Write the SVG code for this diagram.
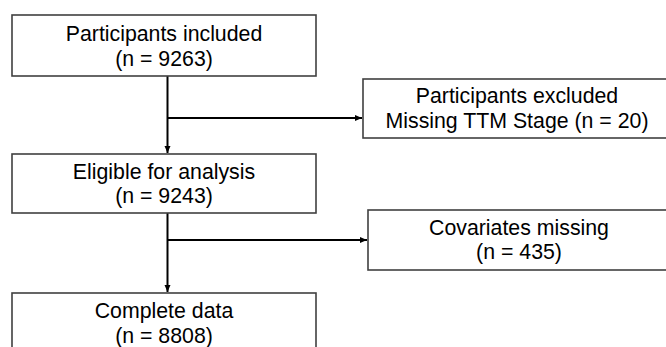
<svg xmlns="http://www.w3.org/2000/svg" width="666" height="347" viewBox="0 0 666 347">
<style>
.box{fill:#fff;stroke:#404040;stroke-width:1.6}
.t{font-family:"Liberation Sans",Arial,sans-serif;font-size:21.3px;fill:#000;text-anchor:middle}
.c{fill:none;stroke:#000;stroke-width:2}
</style>
<defs>
<marker id="ah" markerWidth="8" markerHeight="8" refX="7" refY="4" orient="auto" markerUnits="userSpaceOnUse">
<path d="M0,1 L7,4 L0,7 Z" fill="#000"/>
</marker>
</defs>
<rect width="666" height="347" fill="#fff"/>
<g id="connectors">
<line class="c" x1="167.5" y1="76" x2="167.5" y2="153" marker-end="url(#ah)"/>
<line class="c" x1="167.5" y1="118" x2="362" y2="118" marker-end="url(#ah)"/>
<line class="c" x1="167.5" y1="213" x2="167.5" y2="292" marker-end="url(#ah)"/>
<line class="c" x1="167.5" y1="240" x2="367" y2="240" marker-end="url(#ah)"/>
</g>
<g id="n1">
<rect class="box" x="12" y="15" width="304" height="61"/>
<text class="t" x="164" y="41">Participants included</text>
<text class="t" x="164" y="66">(n = 9263)</text>
</g>
<g id="n2">
<rect class="box" x="363" y="79" width="310" height="59"/>
<text class="t" x="517" y="103">Participants excluded</text>
<text class="t" x="517" y="128">Missing TTM Stage (n = 20)</text>
</g>
<g id="n3">
<rect class="box" x="12" y="154" width="304" height="59"/>
<text class="t" x="164" y="179">Eligible for analysis</text>
<text class="t" x="164" y="203">(n = 9243)</text>
</g>
<g id="n4">
<rect class="box" x="368" y="210" width="304" height="60"/>
<text class="t" x="519" y="235">Covariates missing</text>
<text class="t" x="519" y="259">(n = 435)</text>
</g>
<g id="n5">
<rect class="box" x="12" y="293" width="304" height="70"/>
<text class="t" x="164" y="318">Complete data</text>
<text class="t" x="164" y="343">(n = 8808)</text>
</g>
</svg>
